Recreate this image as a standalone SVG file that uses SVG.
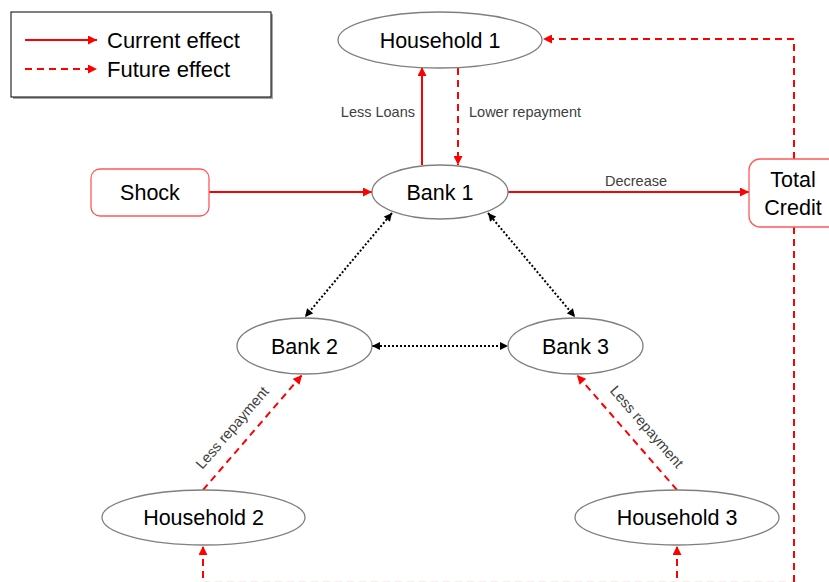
<svg xmlns="http://www.w3.org/2000/svg" width="829" height="582" viewBox="0 0 829 582">
<defs>
<style>
text{font-family:"Liberation Sans",Arial,sans-serif;fill:#000}
.node{fill:#fff;stroke:#7f7f7f;stroke-width:1.3}
.box{fill:#fff;stroke:#ff5a5a;stroke-width:1.3}
.big{font-size:21.5px;text-anchor:middle}
.lbl{font-size:14.5px;fill:#404040}
.cur{stroke:#ff0000;stroke-width:2;fill:none}
.fut{stroke:#ff0000;stroke-width:2;fill:none;stroke-dasharray:7 5}
.dot{stroke:#000;stroke-width:2;fill:none;stroke-dasharray:2 2}
</style>
<marker id="ar" viewBox="0 0 10 10" refX="10" refY="5" markerWidth="10" markerHeight="9" markerUnits="userSpaceOnUse" orient="auto-start-reverse"><path d="M0,0 L10,5 L0,10 z" fill="#ff0000"/></marker>
<marker id="ak" viewBox="0 0 10 10" refX="10" refY="5" markerWidth="9" markerHeight="8" markerUnits="userSpaceOnUse" orient="auto-start-reverse"><path d="M0,0 L10,5 L0,10 z" fill="#000"/></marker>
</defs>

<g id="legend">
<rect x="13" y="14" width="260" height="85" fill="#a6a6a6"/>
<rect x="11" y="12" width="260" height="85" fill="#fff" stroke="#000" stroke-width="1"/>
<line x1="25" y1="40" x2="97" y2="40" class="cur" marker-end="url(#ar)"/>
<line x1="25" y1="69" x2="97" y2="69" class="fut" marker-end="url(#ar)"/>
<text x="107" y="47.5" style="font-size:22px">Current effect</text>
<text x="107" y="76.5" style="font-size:22px">Future effect</text>
</g>

<g id="connectors">
<line x1="422" y1="165" x2="422" y2="67" class="cur" marker-end="url(#ar)"/>
<line x1="458" y1="68" x2="458" y2="165" class="fut" marker-end="url(#ar)"/>
<line x1="209" y1="192" x2="372" y2="192" class="cur" marker-end="url(#ar)"/>
<line x1="508" y1="192" x2="749" y2="192" class="cur" marker-end="url(#ar)"/>
<polyline points="794,159 794,39 543,39" class="fut" marker-end="url(#ar)"/>
<line x1="794" y1="227" x2="794" y2="590" class="fut"/>
<line x1="203" y1="582.6" x2="794" y2="582.6" stroke="#ff0000" stroke-width="2" stroke-dasharray="7 5" opacity="0.15"/>
<line x1="203" y1="590" x2="203" y2="546" class="fut" marker-end="url(#ar)"/>
<line x1="677" y1="590" x2="677" y2="546" class="fut" marker-end="url(#ar)"/>
<line x1="203" y1="490" x2="302" y2="375" class="fut" marker-end="url(#ar)"/>
<line x1="677" y1="490" x2="577" y2="375" class="fut" marker-end="url(#ar)"/>
<line x1="392" y1="213" x2="305" y2="317" class="dot" marker-start="url(#ak)" marker-end="url(#ak)"/>
<line x1="488" y1="213" x2="575" y2="317" class="dot" marker-start="url(#ak)" marker-end="url(#ak)"/>
<line x1="372" y1="346" x2="508" y2="346" class="dot" marker-start="url(#ak)" marker-end="url(#ak)"/>
<text x="415" y="117" class="lbl" text-anchor="end">Less Loans</text>
<text x="469" y="117" class="lbl">Lower repayment</text>
<text x="605" y="186" class="lbl">Decrease</text>
<text class="lbl" text-anchor="middle" transform="translate(236,431) rotate(-49.3)">Less repayment</text>
<text class="lbl" text-anchor="middle" transform="translate(643,430) rotate(49)">Less repayment</text>
</g>

<g id="household1"><ellipse cx="440" cy="40" rx="102" ry="28" class="node"/><text x="440" y="47.5" class="big">Household 1</text></g>
<g id="bank1"><ellipse cx="440" cy="192" rx="68" ry="27" class="node"/><text x="440" y="199.5" class="big">Bank 1</text></g>
<g id="shock"><rect x="91" y="169" width="118" height="47" rx="9" class="box"/><text x="150" y="199.5" class="big">Shock</text></g>
<g id="totalcredit"><rect x="749" y="159" width="100" height="68" rx="11" class="box"/><text x="793" y="187" class="big">Total</text><text x="793" y="215" class="big">Credit</text></g>
<g id="bank2"><ellipse cx="304.5" cy="346" rx="67.5" ry="28" class="node"/><text x="304.5" y="353.5" class="big">Bank 2</text></g>
<g id="bank3"><ellipse cx="575.5" cy="346" rx="67.5" ry="28" class="node"/><text x="575.5" y="353.5" class="big">Bank 3</text></g>
<g id="household2"><ellipse cx="203.5" cy="517.5" rx="101.5" ry="27.5" class="node"/><text x="203.5" y="525" class="big">Household 2</text></g>
<g id="household3"><ellipse cx="677" cy="517.5" rx="102" ry="27.5" class="node"/><text x="677" y="525" class="big">Household 3</text></g>
</svg>
